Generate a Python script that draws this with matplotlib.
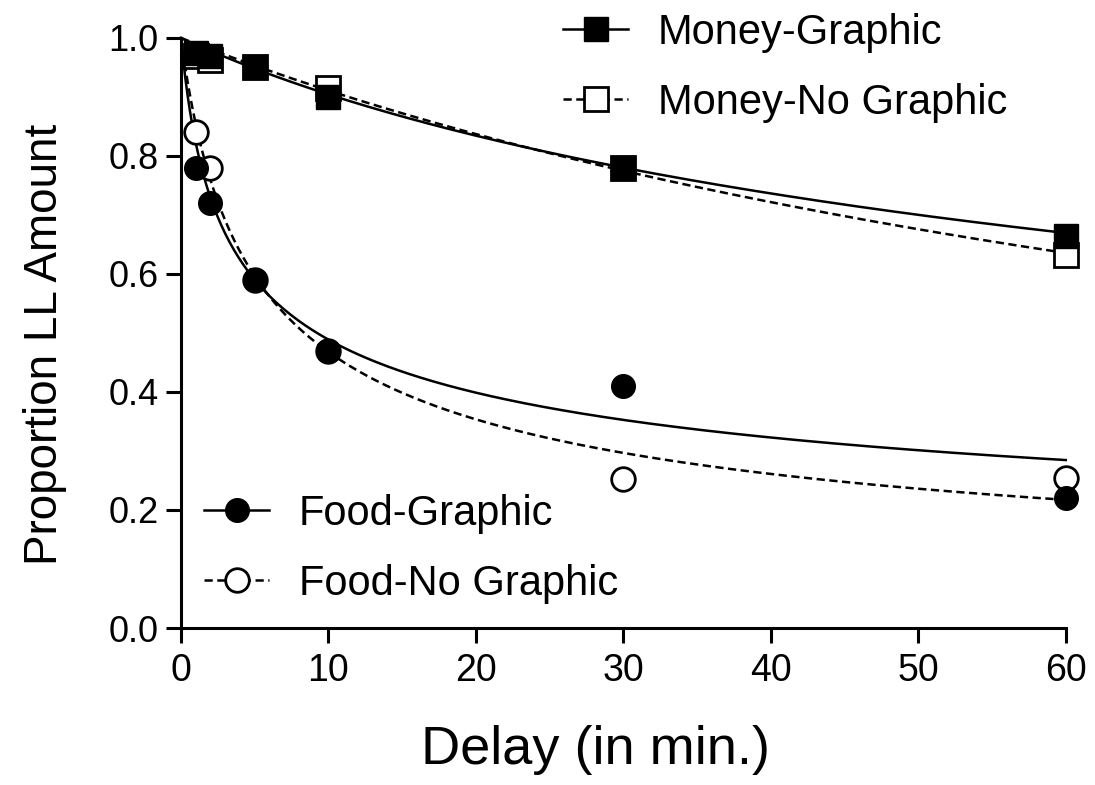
import numpy as np
import matplotlib.pyplot as plt
from matplotlib import rcParams

rcParams['font.family'] = ['Liberation Sans', 'DejaVu Sans']

# Verzögerungen (Minuten)
delays = [1, 2, 5, 10, 30, 60]

money_graphic = [0.975, 0.97, 0.95, 0.90, 0.78, 0.664]
money_no_graphic = [0.97, 0.963, 0.95, 0.915, 0.78, 0.632]
food_graphic = [0.78, 0.72, 0.59, 0.47, 0.41, 0.22]
food_no_graphic = [0.84, 0.78, 0.59, 0.47, 0.253, 0.254]

# Hyperboloid-Fits V = 1 / (1 + kD)^s  (Parameter geschätzt)
fit_k = {'mg': 0.028, 'mn': 0.011, 'fg': 0.85, 'fn': 0.39}
fit_s = {'mg': 0.407, 'mn': 0.894, 'fg': 0.318, 'fn': 0.478}


def hyperboloid(d, k, s):
    return 1.0 / (1.0 + k * d) ** s


fig = plt.figure(figsize=(10.95, 7.85), dpi=100)
ax = fig.add_axes([0.1653, 0.2, 0.808, 0.7516])

d_fit = np.linspace(0, 60, 400)
dash = (0, (3.3, 1.8))
lw = 1.8
ms = 17
mew = 2.0

# Fit-Kurven
ax.plot(d_fit, hyperboloid(d_fit, fit_k['mg'], fit_s['mg']), color='black', lw=lw, clip_on=False)
ax.plot(d_fit, hyperboloid(d_fit, fit_k['mn'], fit_s['mn']), color='black', lw=lw, ls=dash, clip_on=False)
ax.plot(d_fit, hyperboloid(d_fit, fit_k['fg'], fit_s['fg']), color='black', lw=lw, clip_on=False)
ax.plot(d_fit, hyperboloid(d_fit, fit_k['fn'], fit_s['fn']), color='black', lw=lw, ls=dash, clip_on=False)

# Datenpunkte
ax.plot(delays, money_no_graphic, ls='none', marker='s', ms=ms, mfc='white', mec='black', mew=mew,
        clip_on=False, zorder=4)
ax.plot(delays, money_graphic, ls='none', marker='s', ms=ms, mfc='black', mec='black',
        clip_on=False, zorder=5)
ax.plot(delays, food_no_graphic, ls='none', marker='o', ms=ms, mfc='white', mec='black', mew=mew,
        clip_on=False, zorder=4)
ax.plot(delays, food_graphic, ls='none', marker='o', ms=ms, mfc='black', mec='black',
        clip_on=False, zorder=5)

# Legenden-Handles
h_mg, = ax.plot([], [], color='black', lw=lw, marker='s', ms=ms, mfc='black', mec='black')
h_mn, = ax.plot([], [], color='black', lw=lw, ls=dash, marker='s', ms=ms, mfc='white', mec='black', mew=mew)
h_fg, = ax.plot([], [], color='black', lw=lw, marker='o', ms=ms, mfc='black', mec='black')
h_fn, = ax.plot([], [], color='black', lw=lw, ls=dash, marker='o', ms=ms, mfc='white', mec='black', mew=mew)

leg_kw = dict(frameon=False, fontsize=30, handlelength=1.56, handletextpad=0.72,
              labelspacing=0.72, borderpad=0, borderaxespad=0)
fig.legend([h_mg, h_mn], ['Money-Graphic', 'Money-No Graphic'], loc='upper left',
           bbox_to_anchor=(563 / 1095, 1 - 13 / 785), **leg_kw)
fig.legend([h_fg, h_fn], ['Food-Graphic', 'Food-No Graphic'], loc='upper left',
           bbox_to_anchor=(204 / 1095, 1 - 494 / 785), **leg_kw)

ax.set_xlim(0, 60)
ax.set_ylim(0, 1.0)
ax.set_xticks([0, 10, 20, 30, 40, 50, 60])
ax.set_yticks([0.0, 0.2, 0.4, 0.6, 0.8, 1.0])
ax.set_yticklabels(['0.0', '0.2', '0.4', '0.6', '0.8', '1.0'])

for side in ['top', 'right']:
    ax.spines[side].set_visible(False)
for side in ['left', 'bottom']:
    ax.spines[side].set_linewidth(2.2)
ax.tick_params(width=2.2, length=11)
ax.tick_params(axis='x', pad=7, labelsize=27)
ax.tick_params(axis='y', pad=5, labelsize=26)

ax.set_xlabel('Delay (in min.)', fontsize=39, labelpad=26)
ax.xaxis.label.set_x(0.469)
ax.set_ylabel('Proportion LL Amount', fontsize=33, labelpad=30)
ax.yaxis.label.set_y(0.48)

plt.savefig('out.png', dpi=100)
